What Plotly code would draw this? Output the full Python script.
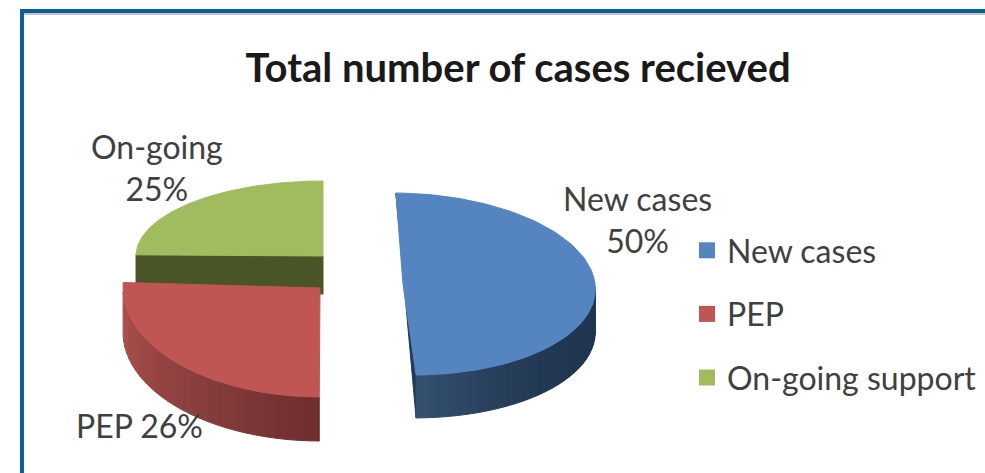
import math
import plotly.graph_objects as go

# ---- data ----
categories = ["New cases", "PEP", "On-going support"]
values = [50, 26, 25]
label_names = ["New cases", "PEP", "On-going"]
title_text = "Total number of cases recieved"

# ---- styling / projection of the 3-D pie (pixel axes) ----
W, H = 985, 473
TOP = ["#5585c0", "#c05653", "#a0bc5f"]
SIDE_FROM = ["#1f3550", "#b05350", "#4a5527"]   # colour at first visible side angle
SIDE_TO = ["#34506f", "#6f2e30", "#4a5527"]     # colour at last visible side angle
GEOM = [
    dict(cx=403, cy=284, a=192, b=91, shear=0.115, depth=43, rot=-1),
    dict(cx=320, cy=288, a=197, b=109, shear=0.0, depth=44, rot=-2),
    dict(cx=323, cy=256, a=187, b=75, shear=0.0, depth=38, rot=0),
]
STRIPS = 28
FONT = "Lato, Carlito, Calibri, sans-serif"
TEXT = "#404040"


def point(g, deg):
    t = math.radians(deg)
    dy = g["b"] * math.cos(t)
    return g["cx"] + g["a"] * math.sin(t) + g["shear"] * dy, g["cy"] + dy


def arc(g, d0, d1, n=80):
    return [point(g, d0 + (d1 - d0) * i / n) for i in range(n + 1)]


def mix(c0, c1, f):
    p = [int(c0[i:i + 2], 16) for i in (1, 3, 5)]
    q = [int(c1[i:i + 2], 16) for i in (1, 3, 5)]
    return "rgb(%d,%d,%d)" % tuple(round(u + (v - u) * f) for u, v in zip(p, q))


def poly(pts, color):
    return go.Scatter(
        x=[p[0] for p in pts] + [pts[0][0]],
        y=[p[1] for p in pts] + [pts[0][1]],
        mode="lines", fill="toself", fillcolor=color,
        line=dict(color=color, width=1),
        showlegend=False, hoverinfo="skip",
    )


total = sum(values)
spans = []
acc = 0.0
for v, g in zip(values, GEOM):
    # slices run clockwise from the top of the ellipse
    spans.append((180 - acc + g["rot"], 180 - acc - v / total * 360 + g["rot"]))
    acc += v / total * 360

fig = go.Figure()


def side_strips(g, s0, s1, c0, c1, power):
    for i in range(STRIPS):
        a0 = s0 + (s1 - s0) * i / STRIPS
        a1 = s0 + (s1 - s0) * (i + 1) / STRIPS
        top = arc(g, a0, a1, 4)
        bottom = [(x, y + g["depth"]) for x, y in reversed(top)]
        fig.add_trace(poly(top + bottom, mix(c0, c1, ((i + 1) / STRIPS) ** power)))


# green first, then blue, then red, so that nearer faces overlap farther ones
for idx in (2, 0, 1):
    g = GEOM[idx]
    d0, d1 = spans[idx]
    apex = (g["cx"], g["cy"])
    depth = g["depth"]
    if idx == 2:  # flat cut face of the green slice
        c = point(g, d0)
        fig.add_trace(poly([c, apex, (apex[0], apex[1] + depth), (c[0], c[1] + depth)], SIDE_FROM[2]))
    elif idx == 0:  # thin cut face and rounded side of the blue slice
        end = point(g, d1)
        start = point(g, d0)
        fig.add_trace(poly([start, end, (end[0], end[1] + depth)], "#1f3a5c"))
        side_strips(g, 88, d1, SIDE_FROM[0], SIDE_TO[0], 3)
    else:  # rounded side of the red slice
        side_strips(g, -88, d0, SIDE_FROM[1], SIDE_TO[1], 1)
    fig.add_trace(poly([apex] + arc(g, d0, d1), TOP[idx]))

# legend entries
for name, color in zip(categories, TOP):
    fig.add_trace(go.Scatter(
        x=[None], y=[None], mode="markers", name=name, legendgroup=name,
        marker=dict(symbol="square", size=21, color=color),
    ))

label_spec = [
    (f"{label_names[0]}<br>{values[0]}%", 637, 219),
    (f"{label_names[1]} {values[1]}%", 139, 425),
    (f"{label_names[2]}<br>{values[2]}%", 157, 167),
]
annotations = [
    dict(x=x, y=y, xref="x", yref="y", text=t, showarrow=False, xanchor="center", yanchor="middle",
         font=dict(family=FONT, size=32, color=TEXT))
    for t, x, y in label_spec
]

fig.update_layout(
    width=W, height=H,
    margin=dict(l=0, r=0, t=0, b=0),
    paper_bgcolor="white", plot_bgcolor="white",
    title=dict(text=f"<b>{title_text}</b>", x=518 / W, xanchor="center", y=1 - 68 / H, yanchor="middle",
               font=dict(family=FONT, size=40, color="#1a1a1a")),
    xaxis=dict(range=[0, W], visible=False, fixedrange=True),
    yaxis=dict(range=[H, 0], visible=False, fixedrange=True),
    legend=dict(x=687 / W, y=1 - 223 / H, xanchor="left", yanchor="top", tracegroupgap=19,
                bgcolor="rgba(0,0,0,0)", font=dict(family=FONT, size=32, color=TEXT)),
    annotations=annotations,
    shapes=[
        dict(type="rect", xref="x", yref="y", x0=20, x1=W, y0=9, y1=13, fillcolor="#0a5f9a", line_width=0),
        dict(type="rect", xref="x", yref="y", x0=20, x1=24, y0=9, y1=H, fillcolor="#0a5f9a", line_width=0),
        dict(type="rect", xref="x", yref="y", x0=24, x1=W, y0=13, y1=15, fillcolor="#c4c4c4", line_width=0),
    ],
)

fig.write_html("out.html", config={"displayModeBar": False},
               post_script="document.body.style.margin='0';document.body.style.overflow='hidden';")
